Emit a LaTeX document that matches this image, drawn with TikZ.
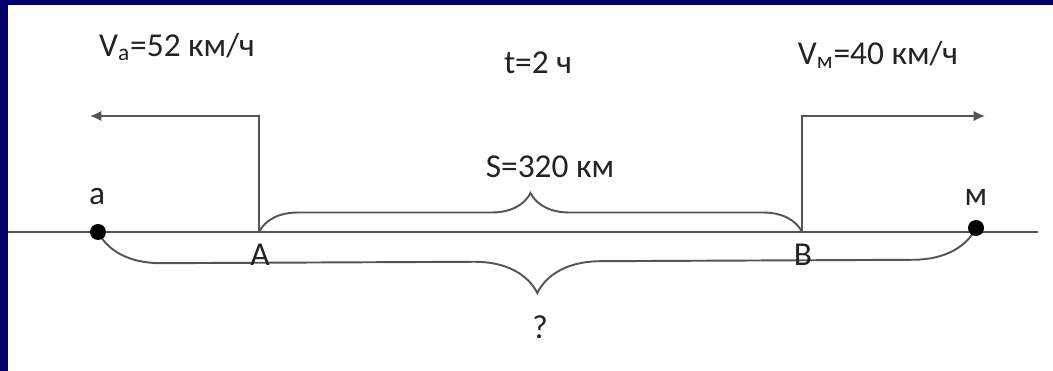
\documentclass[tikz,border=0pt]{standalone}
\usepackage{fontspec}
\setmainfont{Carlito}
\usepackage{tikz}
\usetikzlibrary{arrows.meta, positioning, decorations.pathreplacing}
\definecolor{slidenavy}{RGB}{0,0,102}
\definecolor{roadgray}{RGB}{85,85,85}
\definecolor{inkgray}{RGB}{35,35,35}

\begin{document}
\begin{tikzpicture}[x=0.02cm, y=0.02cm,
  lbl/.style={font=\fontsize{19}{22}\selectfont, text=inkgray, inner sep=0pt},
  road/.style={draw=roadgray, line width=1.1pt},
  brc/.style={road, decorate, decoration={brace, amplitude=#1}},
  arr/.style={road, -{Latex[length=6.5pt, width=6pt]}}]
% slide frame
\fill[white] (0,0) rectangle (1053,371);
\fill[slidenavy] (0,0) rectangle (8,371);
\fill[slidenavy] (0,366) rectangle (1053,371);
% points on the road
\coordinate (lend) at (8,139);
\coordinate (rend) at (1038,139);
\coordinate (a) at (98,139);
\coordinate (m) at (976,143);
\coordinate (A) at (259,139);
\coordinate (B) at (802,139);
\coordinate (la) at (90,255);
\coordinate (rb) at (985,255);
\draw[road] (lend) -- (rend);
% speeds
\draw[arr] (A) |- (la);
\draw[arr] (B) |- (rb);
% distances
\draw[brc=0.78cm] (A) -- (B);
\draw[brc=1.26cm] (m) -- (a);
\fill[black] (a) circle (8);
\fill[black] (m) circle (8);
% labels
\node[lbl] (alab) at (97,174) {а};
\node[lbl] (mlab) at (976,173) {м};
\node[lbl] (Alab) at (260,116) {А};
\node[lbl] (Blab) at (803,116) {В};
\node[lbl] (va) at (177,324) {V\textsubscript{а}=52 км/ч};
\node[lbl] (vm) at (878,316) {V\textsubscript{м}=40 км/ч};
\node[lbl] (time) at (538,308) {t=2 ч};
\node[lbl] (dist) at (550,204) {S=320 км};
\node[lbl] (ask) at (540,44) {?};
\end{tikzpicture}
\end{document}
